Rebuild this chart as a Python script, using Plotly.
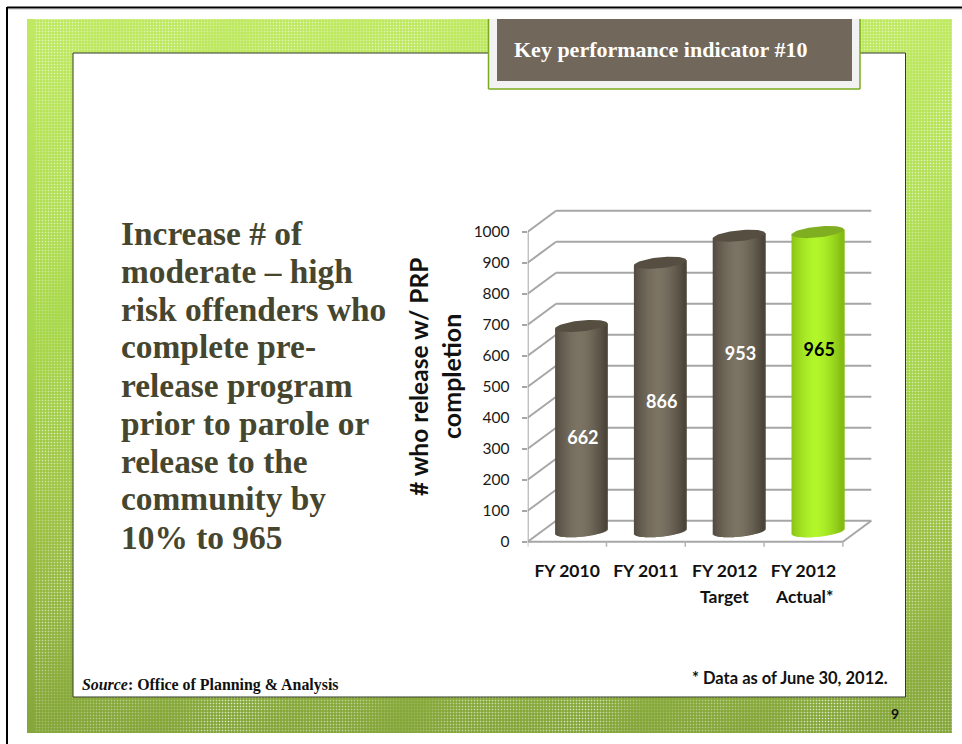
import base64, struct, zlib
import numpy as np
import plotly.graph_objects as go

# ---- data ----
categories = ["FY 2010", "FY 2011", "FY 2012", "FY 2012"]
category_second_line = ["", "", "Target", "Actual*"]
values = [662, 866, 953, 965]
label_heights = [331, 445, 602, 612]
label_colors = ["white", "white", "white", "black"]
y_ticks = [0, 100, 200, 300, 400, 500, 600, 700, 800, 900, 1000]
y_title_lines = ["# who release w/ PRP", "completion"]
body_lines = ["Increase # of", "moderate – high", "risk offenders who", "complete pre-",
              "release program", "prior to parole or", "release to the", "community by", "10% to 965"]
badge_text = "Key performance indicator #10"
source_text = "<i>Source</i>: Office of Planning &amp; Analysis"
note_text = "* Data as of June 30, 2012."
page_number = "9"

# ---- geometry / style ----
W, H = 962, 744
SERIF = "Liberation Serif"
SANS = "Lato"
X0, X_UNIT = 527.7, 78.8           # px of axis start, px per category
Y0, Y_UNIT = 541.7, 0.31           # px of value 0, px per value unit
DEPTH_X, DEPTH_Y = 28.4 / X_UNIT, 21 / Y_UNIT
PLOT_R, PLOT_T, PLOT_B = 872.9, 205.0, 556.0
GRID = "#a6a6a6"
R_X = 26.2 / X_UNIT
CAP_B, CAP_K = 5.5 / Y_UNIT, 2.6 / Y_UNIT
N_STRIPS = 52
BROWN = ((0x4c, 0x45, 0x3a), (0x7c, 0x74, 0x64), "#574e42")
LIME = ((0x84, 0xbc, 0x12), (0xb2, 0xf6, 0x2c), "#7fae20")
styles = [BROWN, BROWN, BROWN, LIME]


def px(x):
    return x / W


def py(y):
    return 1 - y / H


def texture():
    w, h = 925, 714
    stops_y = np.array([0, 310, 520, 714])
    base = np.stack([np.interp(np.arange(h), stops_y, s) for s in
                     ((0xc0, 0xa8, 0x9c, 0x84), (0xea, 0xd8, 0xc0, 0xa6), (0x62, 0x4c, 0x44, 0x3a))], axis=1)
    img = np.repeat(base[:, None, :], w, axis=1)
    yy, xx = np.mgrid[0:h, 0:w]
    amt = np.zeros((h, w))
    amt[(xx % 3 == 0) & (yy % 3 == 0)] = 0.55
    amt[((xx % 3 == 0) ^ (yy % 3 == 0))] = 0.14
    amt *= 0.8 + 0.3 * np.sin(xx / 47.0) * np.sin(yy / 61.0) + 0.25 * np.sin(xx / 19.0 + yy / 31.0)
    amt[:, :7] = 0
    img = img + (255 - img) * np.clip(amt, 0, 1)[..., None]
    raw = np.clip(img, 0, 255).astype(np.uint8)
    rows = b"".join(b"\x00" + raw[i].tobytes() for i in range(h))

    def chunk(tag, data):
        return struct.pack(">I", len(data)) + tag + data + struct.pack(">I", zlib.crc32(tag + data))
    png = b"\x89PNG\r\n\x1a\n" + chunk(b"IHDR", struct.pack(">IIBBBBB", w, h, 8, 2, 0, 0, 0)) + \
        chunk(b"IDAT", zlib.compress(rows, 9)) + chunk(b"IEND", b"")
    return "data:image/png;base64," + base64.b64encode(png).decode()


fig = go.Figure()

# cylinders: one bar trace of shaded, overlapping strips plus a cap polygon per category
for i, (v, st) in enumerate(zip(values, styles)):
    cx = i + DEPTH_X / 2
    cy = v + DEPTH_Y / 2
    step = 2 * R_X / N_STRIPS
    u = (np.arange(N_STRIPS) + 0.5) / N_STRIPS * 2 - 1
    lefts = cx - R_X + np.arange(N_STRIPS) * step
    widths = np.full(N_STRIPS, 2 * step)
    widths[-1] = step
    shade = np.clip(1 - np.abs(u + 0.08) ** 1.6, 0, 1)
    cols = ["rgb(%d,%d,%d)" % tuple(round(a + (b - a) * s) for a, b in zip(st[0], st[1])) for s in shade]
    base = DEPTH_Y / 2 - CAP_B * np.sqrt(1 - u ** 2) + CAP_K * u
    top = cy + CAP_K * u
    fig.add_trace(go.Bar(x=lefts + widths / 2, y=top - base, base=base, width=widths,
                         marker=dict(color=cols, line=dict(width=0)), hoverinfo="skip", showlegend=False))
    t = np.linspace(0, 2 * np.pi, 73)
    fig.add_trace(go.Scatter(x=cx + R_X * np.cos(t), y=cy + CAP_B * np.sin(t) + CAP_K * np.cos(t),
                             mode="lines", fill="toself", fillcolor=st[2], line=dict(width=0),
                             hoverinfo="skip", showlegend=False))

# data labels
fig.add_trace(go.Scatter(x=[i + DEPTH_X / 2 + 0.02 for i in range(4)], y=label_heights, mode="text",
                         text=[str(v) for v in values],
                         textfont=dict(family=SANS, size=18, color=label_colors, weight="bold"),
                         hoverinfo="skip", showlegend=False))

# walls and floor
shapes = []


def line(x0, y0, x1, y1, color=GRID, width=2, ref="data", layer="below"):
    d = dict(type="line", x0=x0, y0=y0, x1=x1, y1=y1, layer=layer, line=dict(color=color, width=width))
    if ref == "data":
        d.update(xref="x", yref="y")
    else:
        d.update(xref="paper", yref="paper")
    shapes.append(d)


def rect(l, t, r, b, fill, border=None, bw=1, layer="below"):
    shapes.append(dict(type="rect", xref="paper", yref="paper", x0=px(l), x1=px(r), y0=py(b), y1=py(t),
                       layer=layer, fillcolor=fill, line=dict(color=border or fill, width=bw if border else 0)))


# page furniture
rect(73, 53, 905.5, 697, "white", "#333a22", 1)
rect(488.5, 19, 860, 89, "#f2f2f2")
line(px(488.5), py(19), px(488.5), py(89), "#7aab1e", 1.5, "paper")
line(px(488.5), py(89), px(860), py(89), "#7aab1e", 1.5, "paper")
line(px(860), py(19), px(860), py(89), "#7aab1e", 1.5, "paper")
rect(497, 19, 852, 81, "#71675a")
line(px(7), py(7.5), px(962), py(7.5), "#000000", 2, "paper")
line(px(7), py(7), px(7), py(744), "#000000", 2, "paper")
line(px(8), py(9.5), px(962), py(9.5), "#dddddd", 1, "paper")

L = -0.5
R = len(categories) - 0.5
for v in y_ticks:
    line(L, v, L + DEPTH_X, v + DEPTH_Y)
    line(L + DEPTH_X, v + DEPTH_Y, R + DEPTH_X, v + DEPTH_Y)
line(L, 0, L, max(y_ticks))
line(L, 0, R, 0)
line(R, 0, R + DEPTH_X, DEPTH_Y)
for k in range(len(categories) + 1):
    line(L + k, 0, L + k, -16, "#b5b5b5", 1.5)

# text
ann = []


def text(x, y, s, family, size, color, anchor="left", bold=True, angle=0):
    ann.append(dict(xref="paper", yref="paper", x=px(x), y=py(y), text=s, showarrow=False,
                    xanchor=anchor, yanchor="middle", textangle=angle,
                    font=dict(family=family, size=size, color=color, weight="bold" if bold else "normal")))


for k, s in enumerate(body_lines):
    text(119, 233 + k * 38, s, SERIF, 33.4, "#46462f")
text(512, 50, badge_text, SERIF, 22, "white")
text(80, 685, source_text, SERIF, 15.9, "#111111")
text(690, 678, note_text, SANS, 16.5, "#111111")
text(895, 713, page_number, SANS, 14, "#111111", "center")
text(418, 377, y_title_lines[0], SANS, 24.5, "#111111", "center", True, -90)
text(451, 377, y_title_lines[1], SANS, 25, "#111111", "center", True, -90)
for i, s in enumerate(category_second_line):
    if s:
        ann.append(dict(xref="x", yref="paper", x=i, y=py(596), text=s, showarrow=False, xanchor="center",
                        yanchor="middle", font=dict(family=SANS, size=17.5, color="#111111", weight="bold")))

fig.update_layout(
    width=W, height=H, autosize=False, margin=dict(l=0, r=0, t=0, b=0),
    paper_bgcolor="white", plot_bgcolor="rgba(0,0,0,0)", barmode="overlay", showlegend=False,
    shapes=shapes, annotations=ann,
    images=[dict(source=texture(), xref="paper", yref="paper", x=px(27), y=py(19), sizex=925 / W, sizey=714 / H,
                 xanchor="left", yanchor="top", sizing="stretch", layer="below")],
    xaxis=dict(domain=[px(X0), px(PLOT_R)], range=[L, L + (PLOT_R - X0) / X_UNIT], showgrid=False, zeroline=False,
               tickmode="array", tickvals=list(range(len(categories))), ticktext=categories, ticks="",
               ticklabelstandoff=2,
               tickfont=dict(family=SANS, size=17.5, color="#111111", weight="bold"), fixedrange=True),
    yaxis=dict(domain=[py(PLOT_B), py(PLOT_T)], range=[(Y0 - PLOT_B) / Y_UNIT, (Y0 - PLOT_T) / Y_UNIT],
               showgrid=False, zeroline=False, tickmode="array", tickvals=y_ticks, ticks="outside", ticklen=5,
               tickwidth=2, tickcolor=GRID, ticklabelstandoff=9,
               tickfont=dict(family=SANS, size=15.5, color="#1a1a1a"), fixedrange=True),
)

fig.write_html("out.html", config={"displayModeBar": False},
               post_script="document.body.style.margin='0';document.documentElement.style.overflow='hidden';")
